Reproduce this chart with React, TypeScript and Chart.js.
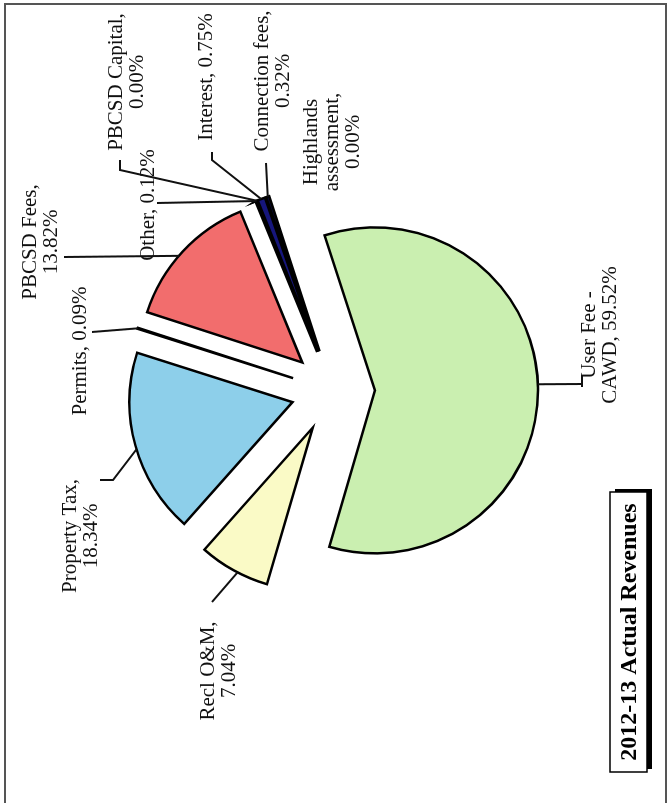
import React, { useEffect, useRef } from 'react';
import { Chart, registerables } from 'chart.js';

Chart.register(...registerables);

// Revenue categories, in slice order (clockwise from the start angle)
const categories = [
  'User Fee - CAWD',
  'Recl O&M',
  'Property Tax',
  'Permits',
  'PBCSD Fees',
  'Other',
  'PBCSD Capital',
  'Interest',
  'Connection fees',
  'Highlands assessment',
];

// Share of total revenue, percent
const shares = [59.52, 7.04, 18.34, 0.09, 13.82, 0.12, 0.0, 0.75, 0.32, 0.0];

const sliceColors = [
  '#caefb0',
  '#fafac6',
  '#8dcfea',
  '#b8a8dc',
  '#f26d6d',
  '#3a3a9a',
  '#8a8a8a',
  '#16167c',
  '#0a0a3c',
  '#9a9a9a',
];

// Word index after which each label wraps to a new line
const lineBreaks = [[3], [2], [2], [], [2], [], [2], [], [2], [1, 2]];

const chartTitle = '2012-13 Actual Revenues';

// The sheet is laid out landscape and turned a quarter turn on the page
const PAGE_W = 670;
const PAGE_H = 803;
const SHEET_W = 803;
const SHEET_H = 670;

const EXPLODE = 42;
const SERIF = '"Liberation Serif", "Times New Roman", serif';
const LABEL_SIZE = 21;
const LINE_H = 21;

type Spot = { cx: number; cy: number; path: number[][]; at: number; tick?: number[] };

// Label block centres and leader routes (label side first); `at` is where on the slice edge the leader lands
const labelSpots: Spot[] = [
  { cx: 468, cy: 600, path: [[419, 582]], at: 0.494, tick: [416, 428, 582] },
  { cx: 132, cy: 219, path: [[201, 212]], at: 0.44 },
  { cx: 267, cy: 81, path: [[323, 100], [323, 113]], at: 0.478 },
  { cx: 452, cy: 80, path: [[471, 92]], at: 0.5 },
  { cx: 561, cy: 41, path: [[546, 64]], at: 0.46 },
  { cx: 598, cy: 148, path: [[600, 157]], at: 0.5 },
  { cx: 721, cy: 127, path: [[643, 120], [633, 120]], at: 0.5 },
  { cx: 726, cy: 206, path: [[651, 212], [643, 212]], at: 0.5 },
  { cx: 722, cy: 273, path: [[640, 266]], at: 0.5 },
  { cx: 661, cy: 332, path: [], at: 0.5 },
];

function labelLines(i: number): string[] {
  const words = `${categories[i]}, ${shares[i].toFixed(2)}%`.split(' ');
  const lines: string[] = [];
  let start = 0;
  for (const b of lineBreaks[i]) {
    lines.push(words.slice(start, b).join(' '));
    start = b;
  }
  lines.push(words.slice(start).join(' '));
  return lines;
}

function arcEdgePoint(arc: any, frac: number): [number, number] {
  const { x, y, startAngle, endAngle, outerRadius } = arc.getProps(
    ['x', 'y', 'startAngle', 'endAngle', 'outerRadius'],
    true
  );
  const mid = (startAngle + endAngle) / 2;
  const ox = x + Math.cos(mid) * EXPLODE;
  const oy = y + Math.sin(mid) * EXPLODE;
  const a = startAngle + (endAngle - startAngle) * frac;
  return [ox + Math.cos(a) * outerRadius, oy + Math.sin(a) * outerRadius];
}

// Pull every slice out along its bisector by the same distance
const explodePlugin = {
  id: 'explodeSlices',
  beforeDatasetDraw(chart: any, args: any) {
    const ctx = chart.ctx;
    args.meta.data.forEach((arc: any) => {
      const mid = (arc.startAngle + arc.endAngle) / 2;
      ctx.save();
      ctx.translate(Math.cos(mid) * EXPLODE, Math.sin(mid) * EXPLODE);
      arc.draw(ctx);
      ctx.restore();
    });
    return false;
  },
};

const sheetPlugin = {
  id: 'sheet',
  beforeDraw(chart: any) {
    const ctx = chart.ctx;
    ctx.save();
    ctx.fillStyle = '#ffffff';
    ctx.fillRect(0, 0, chart.width, chart.height);
    ctx.restore();
  },
  afterDraw(chart: any) {
    const ctx = chart.ctx;
    const arcs = chart.getDatasetMeta(0).data;
    ctx.save();

    // leader lines
    ctx.strokeStyle = '#111';
    ctx.lineWidth = 2;
    labelSpots.forEach((spot, i) => {
      if (!spot.path.length) return;
      const [ex, ey] = arcEdgePoint(arcs[i], spot.at);
      ctx.beginPath();
      ctx.moveTo(spot.path[0][0], spot.path[0][1]);
      for (let k = 1; k < spot.path.length; k++) ctx.lineTo(spot.path[k][0], spot.path[k][1]);
      ctx.lineTo(ex, ey);
      ctx.stroke();
      if (spot.tick) {
        ctx.beginPath();
        ctx.moveTo(spot.tick[0], spot.tick[2]);
        ctx.lineTo(spot.tick[1], spot.tick[2]);
        ctx.stroke();
      }
    });

    // data labels
    ctx.fillStyle = '#111';
    ctx.font = `${LABEL_SIZE}px ${SERIF}`;
    ctx.textAlign = 'center';
    ctx.textBaseline = 'middle';
    labelSpots.forEach((spot, i) => {
      const lines = labelLines(i);
      const y0 = spot.cy - ((lines.length - 1) * LINE_H) / 2;
      lines.forEach((ln, k) => ctx.fillText(ln, spot.cx, y0 + k * LINE_H));
    });

    // title box with drop shadow
    const bx = 31, by = 610, bw = 280, bh = 37;
    ctx.fillStyle = '#000';
    ctx.fillRect(bx + 3, by + 5, bw, bh);
    ctx.fillStyle = '#fff';
    ctx.fillRect(bx, by, bw, bh);
    ctx.strokeStyle = '#000';
    ctx.lineWidth = 1.5;
    ctx.strokeRect(bx, by, bw, bh);
    ctx.fillStyle = '#000';
    ctx.font = `bold 24px ${SERIF}`;
    ctx.fillText(chartTitle, bx + bw / 2, by + bh / 2 + 1);

    // page frame
    ctx.strokeStyle = '#555';
    ctx.lineWidth = 2;
    ctx.beginPath();
    ctx.moveTo(0, 5);
    ctx.lineTo(799, 5);
    ctx.lineTo(799, 666);
    ctx.lineTo(0, 666);
    ctx.stroke();

    ctx.restore();
  },
};

export default function App() {
  const ref = useRef<HTMLCanvasElement>(null);

  useEffect(() => {
    const chart = new Chart(ref.current as HTMLCanvasElement, {
      type: 'pie',
      data: {
        labels: categories,
        datasets: [
          {
            data: shares,
            backgroundColor: sliceColors,
            borderColor: '#000',
            borderWidth: 2.5,
            borderJoinStyle: 'miter',
          } as any,
        ],
      },
      options: {
        responsive: false,
        animation: false,
        devicePixelRatio: 1,
        rotation: 72,
        radius: 163,
        events: [],
        layout: { padding: { left: 162, right: 141, top: 83, bottom: 87 } },
        plugins: {
          legend: { display: false },
          tooltip: { enabled: false },
          title: { display: false },
        },
      } as any,
      plugins: [explodePlugin, sheetPlugin],
    });
    return () => chart.destroy();
  }, []);

  return (
    <div
      style={{
        position: 'fixed',
        left: 0,
        top: 0,
        width: PAGE_W,
        height: PAGE_H,
        overflow: 'hidden',
        background: '#fff',
      }}
    >
      <div
        style={{
          position: 'absolute',
          left: 0,
          top: 0,
          width: SHEET_W,
          height: SHEET_H,
          transformOrigin: '0 0',
          transform: `translate(0px, ${PAGE_H}px) rotate(-90deg)`,
        }}
      >
        <canvas
          ref={ref}
          width={SHEET_W}
          height={SHEET_H}
          style={{ display: 'block', width: SHEET_W, height: SHEET_H }}
        />
      </div>
    </div>
  );
}
